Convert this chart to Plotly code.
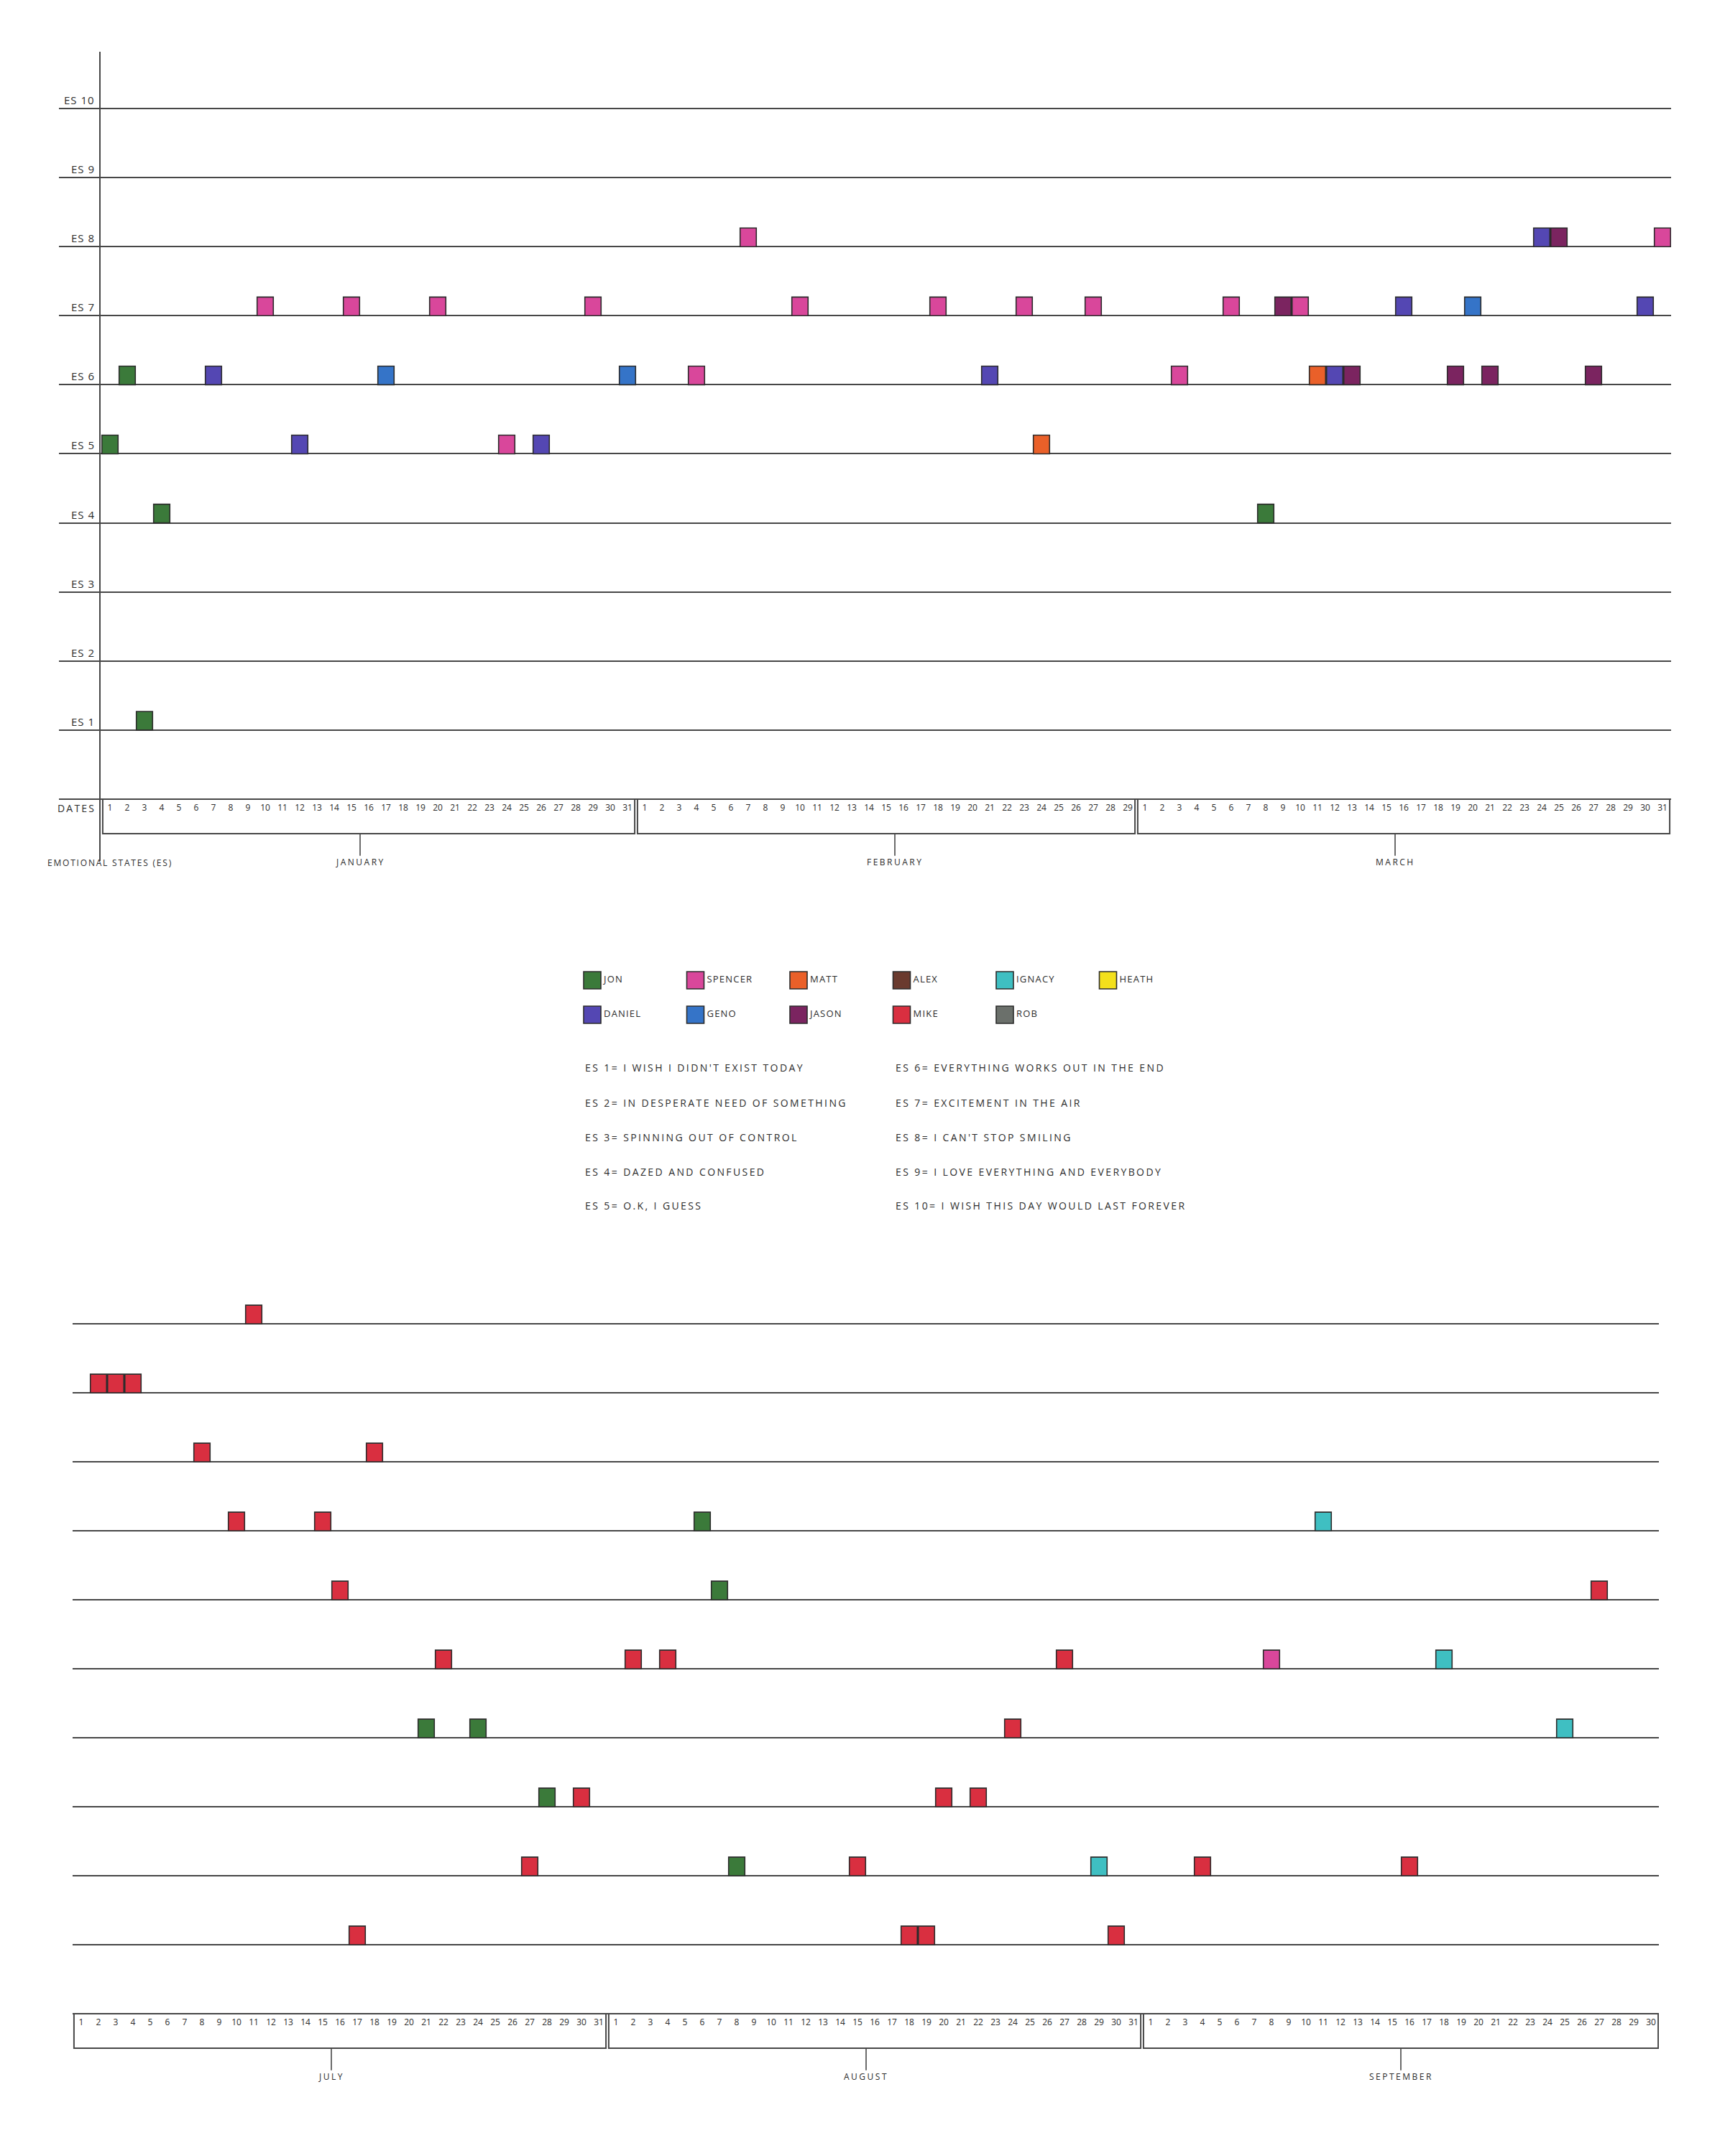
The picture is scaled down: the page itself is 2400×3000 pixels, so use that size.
import plotly.graph_objects as go
import pandas as pd

YEAR = 2008  # leap year: February shows 29 days

# ---------------- data ----------------
PEOPLE = ["JON", "SPENCER", "MATT", "ALEX", "IGNACY", "HEATH",
          "DANIEL", "GENO", "JASON", "MIKE", "ROB"]
COLORS = ["#3b7a3a", "#d9479b", "#ea6029", "#6a3a2e", "#3fbfc2", "#f3e01c",
          "#5447b3", "#3574c8", "#7b2460", "#d92f40", "#6b706b"]

ES_LEVELS = list(range(1, 11))
ES_DEFS = [
    "ES 1= I WISH I DIDN'T EXIST TODAY",
    "ES 2= IN DESPERATE NEED OF SOMETHING",
    "ES 3= SPINNING OUT OF CONTROL",
    "ES 4= DAZED AND CONFUSED",
    "ES 5= O.K, I GUESS",
    "ES 6= EVERYTHING WORKS OUT IN THE END",
    "ES 7= EXCITEMENT IN THE AIR",
    "ES 8= I CAN'T STOP SMILING",
    "ES 9= I LOVE EVERYTHING AND EVERYBODY",
    "ES 10= I WISH THIS DAY WOULD LAST FOREVER",
]

TOP_MONTHS = [1, 2, 3]
TOP_MONTH_NAMES = ["JANUARY", "FEBRUARY", "MARCH"]
BOTTOM_MONTHS = [7, 8, 9]
BOTTOM_MONTH_NAMES = ["JULY", "AUGUST", "SEPTEMBER"]

# January - March
top_person = ["JON", "JON", "JON", "JON", "DANIEL", "SPENCER", "DANIEL", "SPENCER", "GENO", "SPENCER",
              "SPENCER", "DANIEL", "SPENCER", "GENO", "SPENCER", "SPENCER", "SPENCER", "SPENCER", "DANIEL", "SPENCER",
              "MATT", "SPENCER", "SPENCER", "SPENCER", "JON", "JASON", "SPENCER", "MATT", "DANIEL", "JASON",
              "DANIEL", "JASON", "GENO", "JASON", "DANIEL", "JASON", "JASON", "DANIEL", "SPENCER"]
top_date = ["01-01", "01-02", "01-03", "01-04", "01-07", "01-10", "01-12", "01-15", "01-17", "01-20",
            "01-24", "01-26", "01-29", "01-31", "02-04", "02-07", "02-10", "02-18", "02-21", "02-23",
            "02-24", "02-27", "03-03", "03-06", "03-08", "03-09", "03-10", "03-11", "03-12", "03-13",
            "03-16", "03-19", "03-20", "03-21", "03-24", "03-25", "03-27", "03-30", "03-31"]
top_es = [5, 6, 1, 4, 6, 7, 5, 7, 6, 7,
          5, 5, 7, 6, 6, 8, 7, 7, 6, 7,
          5, 7, 6, 7, 4, 7, 7, 6, 6, 6,
          7, 6, 7, 6, 8, 8, 6, 7, 8]

# July - September
bottom_person = ["MIKE", "MIKE", "MIKE", "MIKE", "MIKE", "MIKE", "MIKE", "MIKE", "MIKE", "MIKE",
                 "JON", "MIKE", "JON", "MIKE", "JON", "MIKE", "MIKE", "MIKE", "JON", "JON",
                 "JON", "MIKE", "MIKE", "MIKE", "MIKE", "MIKE", "MIKE", "MIKE", "IGNACY", "MIKE",
                 "MIKE", "SPENCER", "IGNACY", "MIKE", "IGNACY", "IGNACY", "MIKE"]
bottom_date = ["07-02", "07-03", "07-04", "07-08", "07-10", "07-11", "07-15", "07-16", "07-17", "07-18",
               "07-21", "07-22", "07-24", "07-27", "07-28", "07-30", "08-02", "08-04", "08-06", "08-07",
               "08-08", "08-15", "08-18", "08-19", "08-20", "08-22", "08-24", "08-27", "08-29", "08-30",
               "09-04", "09-08", "09-11", "09-16", "09-18", "09-25", "09-27"]
bottom_es = [9, 9, 9, 8, 7, 10, 7, 6, 1, 8,
             4, 5, 4, 2, 3, 3, 5, 5, 7, 6,
             2, 2, 1, 1, 3, 3, 4, 5, 2, 1,
             2, 5, 7, 2, 5, 4, 6]

# ---------------- styling / geometry ----------------
PAGE_W, PAGE_H = 2400, 3000
BODY_MARGIN = 8                      # default page margin around the plot div
W, H = PAGE_W - BODY_MARGIN, PAGE_H - BODY_MARGIN
DAY = pd.Timedelta(days=1)
DAY_PX = 24.0
BAR_H = 0.27          # marker height in ES units
BAR_W = 0.94          # marker width in days
INK = "#2c2c2c"
LINE = "#474747"
FONT = "Open Sans"

TOP = dict(months=TOP_MONTHS, names=TOP_MONTH_NAMES, day0_px=153, left_px=82, right_px=2325,
           es0_py=1112, unit=96.1, ylo=-0.9, yhi=10.82)
BOT = dict(months=BOTTOM_MONTHS, names=BOTTOM_MONTH_NAMES, day0_px=113, left_px=101, right_px=2308,
           es0_py=2802, unit=96.0, ylo=-0.9, yhi=10.6)


def px_x(p):
    return (p - BODY_MARGIN) / W


def px_y(p):
    return 1 - (p - BODY_MARGIN) / H


def iso(t):
    return t.strftime("%Y-%m-%d %H:%M:%S")


def spaced(text, ls):
    return f'<span style="letter-spacing:{ls}px">{text}</span>'


def month_bounds(m):
    first = pd.Timestamp(year=YEAR, month=m, day=1)
    last = first + pd.offsets.MonthEnd(0)
    return first, last


def axis_setup(cfg):
    first, _ = month_bounds(cfg["months"][0])
    _, last = month_bounds(cfg["months"][-1])
    days = pd.date_range(first, last, freq="D")
    xr = [iso(first + (cfg["left_px"] - cfg["day0_px"]) / DAY_PX * DAY),
          iso(first + (cfg["right_px"] - cfg["day0_px"]) / DAY_PX * DAY)]
    xaxis = dict(type="date", range=xr, domain=[px_x(cfg["left_px"]), px_x(cfg["right_px"])],
                 anchor="free", position=px_y(cfg["es0_py"]), side="bottom",
                 tickmode="array", tickvals=[iso(d) for d in days], ticktext=[str(d.day) for d in days],
                 ticks="", showgrid=False, zeroline=False, showline=False,
                 tickfont=dict(family=FONT, size=12, color=INK), tickangle=0, ticklabelstandoff=3,
                 fixedrange=True)
    ylo, yhi = cfg["ylo"], cfg["yhi"]
    yaxis = dict(range=[ylo, yhi],
                 domain=[px_y(cfg["es0_py"] - ylo * cfg["unit"]), px_y(cfg["es0_py"] - yhi * cfg["unit"])],
                 tickmode="array", tickvals=[0] + ES_LEVELS, showticklabels=False, ticks="",
                 showgrid=True, gridcolor=LINE, gridwidth=2, zeroline=False, showline=False,
                 fixedrange=True)
    return xaxis, yaxis


fig = go.Figure()

# ---------------- emotional-state marks ----------------
def add_marks(persons, dates, levels, xa, ya, tag):
    for name, color in zip(PEOPLE, COLORS):
        idx = [i for i, p in enumerate(persons) if p == name]
        if not idx:
            continue
        xs = [f"{YEAR}-{dates[i]}" for i in idx]
        base = [levels[i] for i in idx]
        fig.add_trace(go.Bar(
            x=xs, y=[BAR_H] * len(idx), base=base, name=name,
            width=BAR_W * 86400000,
            marker=dict(color=color, line=dict(color=INK, width=1.6)),
            xaxis=xa, yaxis=ya, showlegend=False,
            customdata=base,
            hovertemplate=name + "<br>%{x|%B %-d}<br>ES %{customdata}<extra>" + tag + "</extra>",
        ))


add_marks(top_person, top_date, top_es, "x", "y", "Jan–Mar")
add_marks(bottom_person, bottom_date, bottom_es, "x2", "y2", "Jul–Sep")

# ---------------- month boxes, ticks, labels ----------------
shapes = []
annotations = []
for cfg, xref, yref in [(TOP, "x", "y"), (BOT, "x2", "y2")]:
    for m, label in zip(cfg["months"], cfg["names"]):
        first, last = month_bounds(m)
        mid = first + 14.5 * DAY
        shapes.append(dict(type="rect", xref=xref, yref=yref,
                           x0=iso(first - 0.42 * DAY), x1=iso(last + 0.42 * DAY), y0=0, y1=-0.5,
                           line=dict(color=LINE, width=2), fillcolor="rgba(0,0,0,0)"))
        shapes.append(dict(type="line", xref=xref, yref=yref, x0=iso(mid), x1=iso(mid), y0=-0.5, y1=-0.82,
                           line=dict(color=LINE, width=1.6)))
        annotations.append(dict(xref=xref, yref=yref, x=iso(mid), y=-0.8, yanchor="top", xanchor="center",
                                text=spaced(label, 2.5), showarrow=False,
                                font=dict(family=FONT, size=12, color=INK)))

# ES labels on the top chart
for lvl in ES_LEVELS:
    annotations.append(dict(xref="paper", yref="y", x=px_x(134), y=lvl, xanchor="right", yanchor="bottom",
                            text=spaced(f"ES {lvl}", 1), showarrow=False,
                            font=dict(family=FONT, size=15, color=INK)))
annotations.append(dict(xref="paper", yref="paper", x=px_x(135), y=px_y(1124), xanchor="right",
                        yanchor="middle", text=spaced("DATES", 2.2), showarrow=False,
                        font=dict(family=FONT, size=14, color=INK)))
annotations.append(dict(xref="paper", yref="paper", x=px_x(64), y=px_y(1201), xanchor="left",
                        yanchor="middle", text=spaced("EMOTIONAL STATES (ES)", 1.8), showarrow=False,
                        font=dict(family=FONT, size=12, color=INK)))

# ES definitions (two columns of five)
for k, text in enumerate(ES_DEFS):
    col, row = divmod(k, 5)
    annotations.append(dict(xref="paper", yref="paper", x=px_x(812 + col * 432), y=px_y(1486 + row * 48),
                            xanchor="left", yanchor="middle", text=spaced(text, 2.4), showarrow=False,
                            font=dict(family=FONT, size=14, color=INK)))

# ---------------- key (people) ----------------
for i, (name, color) in enumerate(zip(PEOPLE, COLORS)):
    fig.add_trace(go.Scatter(
        x=[i % 6], y=[i // 6], mode="markers+text", text=[spaced(name, 1.2)], textposition="middle right",
        textfont=dict(family=FONT, size=13, color=INK),
        marker=dict(symbol="square", size=24, color=color, line=dict(color=INK, width=1.6)),
        xaxis="x3", yaxis="y3", showlegend=False, cliponaxis=False, hovertext=[name], hoverinfo="text",
    ))

x1, y1 = axis_setup(TOP)
x2, y2 = axis_setup(BOT)
# the drawn vertical axis of the top chart
y1.update(anchor="free", position=px_x(139), showline=True, linecolor=LINE, linewidth=2)

fig.update_layout(
    width=W, height=H, autosize=False,
    margin=dict(l=0, r=0, t=0, b=0, pad=0),
    paper_bgcolor="#ffffff", plot_bgcolor="rgba(0,0,0,0)",
    barmode="overlay", showlegend=False,
    font=dict(family=FONT, color=INK),
    xaxis=x1, yaxis=y1, xaxis2=x2, yaxis2=y2,
    xaxis3=dict(domain=[px_x(752.25), px_x(1613.25)], range=[-0.5, 5.5], visible=False, fixedrange=True),
    yaxis3=dict(domain=[px_y(1436), px_y(1340)], range=[1.5, -0.5], visible=False, fixedrange=True),
    shapes=shapes, annotations=annotations,
)

fig.write_html("out.html")
